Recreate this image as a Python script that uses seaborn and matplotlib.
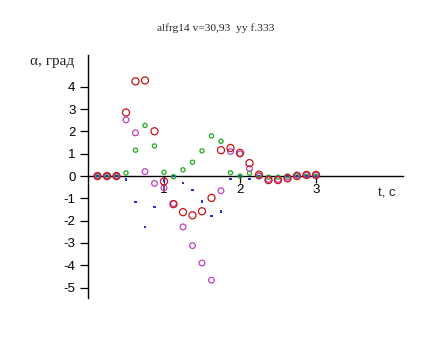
import matplotlib
matplotlib.use("Agg")
import matplotlib.pyplot as plt
import seaborn as sns
import pandas as pd

t = [0.125, 0.25, 0.375, 0.5, 0.625, 0.75, 0.875, 1.0, 1.125, 1.25, 1.375, 1.5,
     1.625, 1.75, 1.875, 2.0, 2.125, 2.25, 2.375, 2.5, 2.625, 2.75, 2.875, 3.0]
red = [0, 0, 0, 2.85, 4.25, 4.29, 2.01, -0.24, -1.26, -1.62, -1.76, -1.58,
       -0.98, 1.16, 1.26, 1.04, 0.58, 0.06, -0.18, -0.18, -0.1, 0.0, 0.05, 0.05]
magenta = [0, 0, 0, 2.52, 1.94, 0.2, -0.33, -0.53, -1.23, -2.28, -3.12, -3.9,
           -4.67, -0.66, 1.1, 0.99, 0.33, 0.0, -0.15, -0.15, -0.05, 0.05, 0.05, 0.05]
green = [0, 0, 0, 0.14, 1.16, 2.27, 1.35, 0.17, -0.03, 0.28, 0.62, 1.13,
         1.8, 1.56, 0.15, 0.0, 0.13, 0.05, -0.05, -0.05, 0.0, 0.0, 0.0, 0.0]
blue = [0, 0, 0, -0.15, -1.17, -2.28, -1.38, -0.2, 0.0, -0.32, -0.63, -1.13,
        -1.8, -1.58, -0.14, 0.0, -0.14, 0.0, 0.0, 0.0, 0.0, 0.0, 0.0, 0.0]
xticks = [1, 2, 3]
yticks = [-5, -4, -3, -2, -1, 0, 1, 2, 3, 4]
title = "alfrg14 v=30,93  yy f.333"
ylabel = "α, град"
xlabel = "t, с"

sns.set_style("white")
plt.rcParams['font.family'] = ['Liberation Sans', 'DejaVu Sans']

df = pd.DataFrame({"t": t, "red": red, "magenta": magenta, "green": green, "blue": blue})

fig = plt.figure(figsize=(4.29, 3.38), dpi=100)
ax = fig.add_axes([88/429, 40/338, 315/429, 243/338])

sns.scatterplot(data=df, x="t", y="blue", ax=ax, marker="s", s=3.5, color="#2233dd",
                edgecolor="none", zorder=3)
sns.scatterplot(data=df, x="t", y="green", ax=ax, marker="o", s=9, facecolor="none",
                edgecolor="#22aa22", linewidth=0.9, zorder=4)
sns.scatterplot(data=df, x="t", y="magenta", ax=ax, marker="o", s=17, facecolor="none",
                edgecolor="#c040c0", linewidth=0.9, zorder=5)
sns.scatterplot(data=df, x="t", y="red", ax=ax, marker="o", s=26, facecolor="none",
                edgecolor="#c01818", linewidth=0.9, zorder=6)

ax.set_xlim(0, 315/76)
ax.set_ylim(-5.47, 5.43)
ax.set_xlabel("")
ax.set_ylabel("")
ax.set_xticks(xticks)
ax.set_yticks(yticks)
ax.set_xticklabels([str(v) for v in xticks])
ax.set_yticklabels([str(v) for v in yticks])
for s in ["top", "right"]:
    ax.spines[s].set_visible(False)
ax.spines["bottom"].set_position(("data", 0))
ax.spines["left"].set_linewidth(1.0)
ax.spines["bottom"].set_linewidth(1.0)
ax.spines["left"].set_color("black")
ax.spines["bottom"].set_color("black")
ax.tick_params(axis="y", direction="out", length=6, width=0.9, pad=3, labelsize=9.5,
               left=True, colors="black")
ax.tick_params(axis="x", direction="out", length=5, width=0.9, pad=1, labelsize=9.5,
               bottom=True, colors="black")
ax.grid(False)
ax.set_facecolor("white")

fig.text(216/429, 1 - 28/338, title, ha="center", va="center", fontsize=8.2,
         family=["Liberation Serif", "DejaVu Serif"])
fig.text(30/429, 1 - 61/338, ylabel, ha="left", va="center", fontsize=11,
         family=["Liberation Serif", "DejaVu Serif"])
fig.text(378/429, 1 - 193/338, xlabel, ha="left", va="center", fontsize=9.5)

fig.savefig("out.png", dpi=100)
